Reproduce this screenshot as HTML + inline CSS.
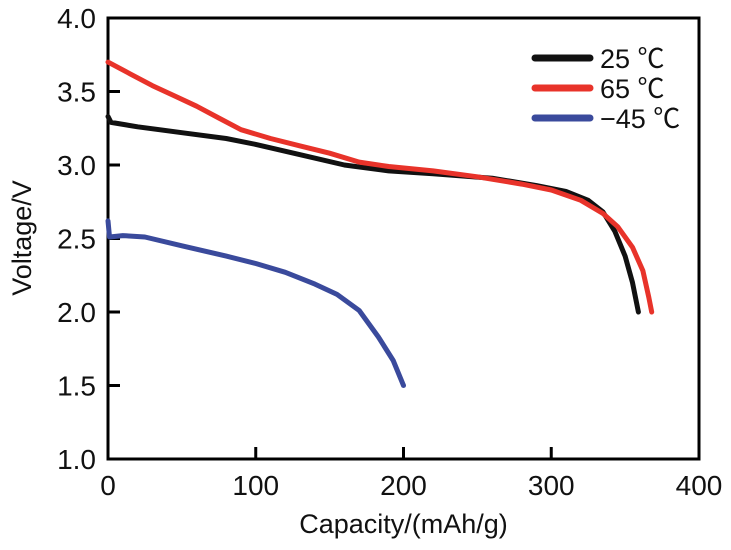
<!DOCTYPE html>
<html><head><meta charset="utf-8"><style>
body{margin:0;background:#fff;}
svg text{font-family:"Liberation Sans","Noto Sans CJK SC",sans-serif;}
</style></head><body>
<svg id="chart" width="731" height="545"></svg>
<script>
const xTicks=[0,100,200,300,400];
const yTicks=[1.0,1.5,2.0,2.5,3.0,3.5,4.0];
const seriesNames=["25 ℃","65 ℃","−45 ℃"];
const seriesColors=["#111","#e8332a","#3a4a9c"];
const cap25=[0,2,20,50,80,100,130,160,190,220,260,290,310,325,335,343,350,355,359];
const v25=[3.33,3.29,3.26,3.22,3.18,3.14,3.07,3.00,2.96,2.94,2.91,2.86,2.82,2.76,2.68,2.55,2.38,2.2,2.0];
const cap65=[0,15,30,45,60,75,90,110,130,150,170,190,220,250,280,300,320,335,345,355,362,366,368];
const v65=[3.70,3.62,3.54,3.47,3.40,3.32,3.24,3.18,3.13,3.08,3.02,2.99,2.96,2.92,2.87,2.83,2.76,2.67,2.58,2.44,2.28,2.1,2.0];
const capM45=[0,1,10,25,50,80,100,120,140,155,170,183,193,200];
const vM45=[2.62,2.51,2.52,2.51,2.45,2.38,2.33,2.27,2.19,2.12,2.01,1.83,1.67,1.50];
const L=108,R=699,T=18,B=459;
const sx=v=>L+(v-0)/400*(R-L);
const sy=v=>B-(v-1)/3*(B-T);
const svg=document.getElementById('chart');
const NS='http://www.w3.org/2000/svg';
function mk(tag,attrs,parent){const e=document.createElementNS(NS,tag);for(const k in attrs)e.setAttribute(k,attrs[k]);(parent||svg).appendChild(e);return e;}
let fr=mk('rect',{x:L,y:T,width:R-L,height:B-T,fill:'none',stroke:'#000','stroke-width':3});


xTicks.forEach(t=>{
  if(t>0&&t<400){let tk=mk('line',{x1:sx(t),x2:sx(t),y1:B,y2:B-12,stroke:'#000','stroke-width':3});
  
  }
  let tx=mk('text',{x:sx(t),y:B+36,'text-anchor':'middle','font-size':28,fill:'#111'});tx.textContent=t;
  
  
});
yTicks.forEach(t=>{
  if(t>1&&t<4){let tk=mk('line',{x1:L,x2:L+12,y1:sy(t),y2:sy(t),stroke:'#000','stroke-width':3});
  
  }
  let tx=mk('text',{x:L-12,y:sy(t)+10,'text-anchor':'end','font-size':28,fill:'#111'});tx.textContent=t.toFixed(1);
  
  
});
let xt=mk('text',{x:(L+R)/2,y:533,'text-anchor':'middle','font-size':27,fill:'#111'});xt.textContent='Capacity/(mAh/g)';


let yt=mk('text',{x:0,y:0,'text-anchor':'middle','font-size':27,fill:'#111',transform:'translate(31,238) rotate(-90)'});yt.textContent='Voltage/V';


const caps=[cap25,cap65,capM45],vs=[v25,v65,vM45],ids=['series-25c','series-65c','series-minus45c'];
[2,0,1].forEach(i=>{
  const d=caps[i].map((c,j)=>(j?'L':'M')+sx(c).toFixed(1)+','+sy(vs[i][j]).toFixed(1)).join(' ');
  let p=mk('path',{d:d,fill:'none',stroke:seriesColors[i],'stroke-width':5,'stroke-linejoin':'round','stroke-linecap':'round'});
  
  
});
seriesNames.forEach((n,i)=>{
  const y=58+i*30;
  let g=mk('g',{});
  
  
  mk('line',{x1:535,x2:590,y1:y,y2:y,stroke:seriesColors[i],'stroke-width':7,'stroke-linecap':'round'},g);
  let tx=mk('text',{x:600,y:y+10,'font-size':27,fill:'#111'},g);tx.textContent=n;
});
</script>
</body></html>
